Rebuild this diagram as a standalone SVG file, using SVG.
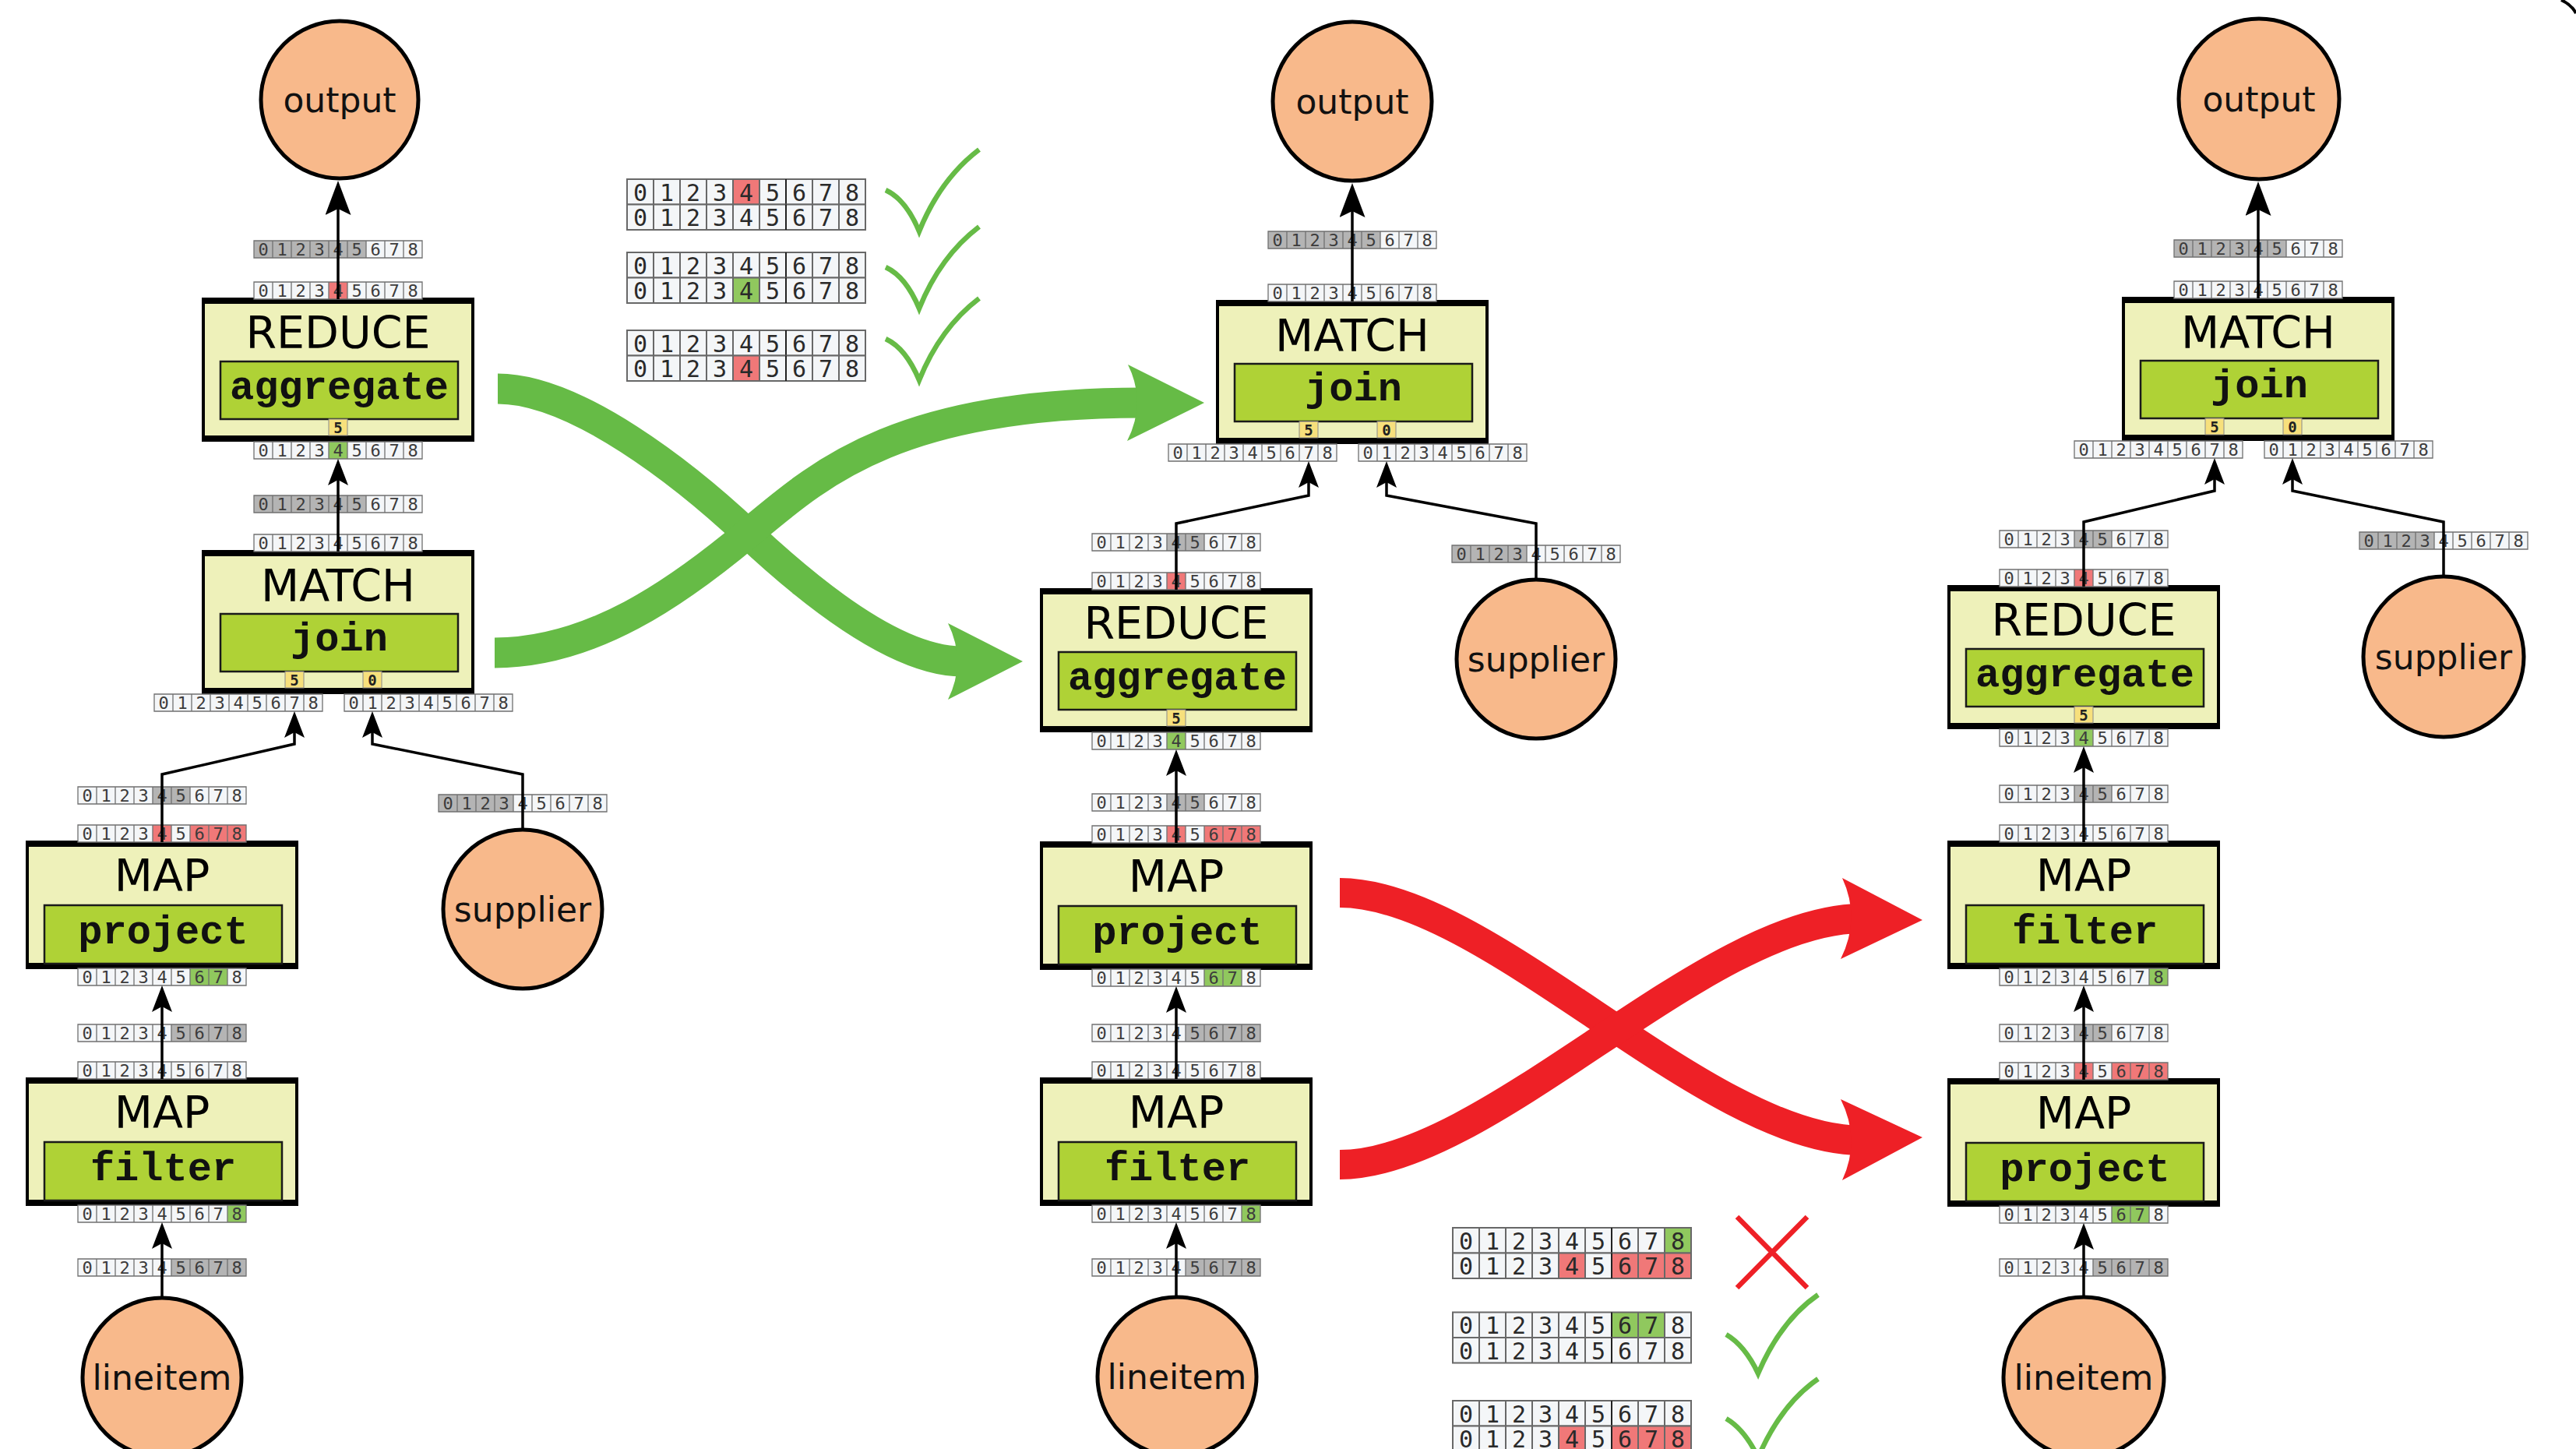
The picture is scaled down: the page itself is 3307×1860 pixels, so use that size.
<svg xmlns="http://www.w3.org/2000/svg" width="3307" height="1860" viewBox="0 0 3307 1860">
<style>
  .op{fill:#EEF1BA;stroke:#000;stroke-width:4}
  .bd{fill:#000}
  .fn{fill:#AFD236;stroke:#1a1a1a;stroke-width:2.5}
  .ix{fill:#F7E07C;stroke:#8a8a8a;stroke-width:1}
  .src{fill:#F8B98B;stroke:#000;stroke-width:5}
  .t{font-family:"DejaVu Sans",sans-serif;font-size:57px;text-anchor:middle;fill:#000}
  .s{font-family:"Liberation Mono","DejaVu Sans Mono",monospace;font-weight:bold;font-size:52px;text-anchor:middle;fill:#111}
  .c{font-family:"DejaVu Sans",sans-serif;font-size:44px;text-anchor:middle;fill:#111}
  .y{font-family:"DejaVu Sans Mono",monospace;font-weight:bold;font-size:19px;text-anchor:middle;fill:#222}
  .d{font-family:"DejaVu Sans Mono",monospace;font-size:22px;text-anchor:middle;fill:#3c3c3c}
  .D{font-family:"DejaVu Sans Mono",monospace;font-size:30px;text-anchor:middle;fill:#2a2a2a}
  .cw{fill:#F4F6F8}
  .cg{fill:#B4B4B4}
  .cr{fill:#F07878}
  .cn{fill:#90C85E}
  .grid{fill:none;stroke:#707070;stroke-width:1.3}
  .Grid{fill:none;stroke:#686868;stroke-width:2}
  .edge{fill:none;stroke:#000;stroke-width:3.5}
  .sm{marker-end:url(#ah)}
  .lg{marker-end:url(#ahBig)}
  .flow-ok{fill:none;stroke:#66BB46;stroke-width:39}
  .flow-bad{fill:none;stroke:#EE2026;stroke-width:38}
  .head-ok{fill:#66BB46}
  .head-bad{fill:#EE2026}
  .tick{fill:none;stroke:#66BB46;stroke-width:6.5;stroke-linejoin:miter}
  .cross{fill:none;stroke:#EE2026;stroke-width:6.5}
</style>
<defs>
  <marker id="ah" markerUnits="userSpaceOnUse" viewBox="0 -13 34 26" markerWidth="34" markerHeight="26" refX="24" refY="0" orient="auto">
    <path d="M0,-13L34,0L0,13L7,0Z" fill="#000"/>
  </marker>
  <marker id="ahBig" markerUnits="userSpaceOnUse" viewBox="0 -16.5 44 33" markerWidth="44" markerHeight="33" refX="34" refY="0" orient="auto">
    <path d="M0,-16.5L44,0L0,16.5L8,0Z" fill="#000"/>
  </marker>
  <!-- 9-field record: grid lines and field numbers (small) -->
  <g id="g9">
    <path class="grid" d="M0,0H216V22H0Z M24,0V22 M48,0V22 M72,0V22 M96,0V22 M120,0V22 M144,0V22 M168,0V22 M192,0V22"/>
    <text class="d" x="12 36 60 84 108 132 156 180 204" y="19">012345678</text>
  </g>
  <!-- 9-field record: large version used in the comparison tables -->
  <g id="G9">
    <path class="Grid" d="M0,0H306V32.5H0Z M34,0V32.5 M68,0V32.5 M102,0V32.5 M136,0V32.5 M170,0V32.5 M238,0V32.5 M272,0V32.5"/>
    <path d="M204,0V32.5" stroke="#222" stroke-width="2"/>
    <text class="D" x="17 51 85 119 153 187 221 255 289" y="27.5">012345678</text>
  </g>
</defs>

<rect width="3307" height="1860" fill="#fff"/>

<!-- plan rewrites: swap of REDUCE/MATCH (valid), swap of the two MAPs (invalid) -->
<g id="rewrites">
  <path class="flow-ok" d="M639,499C740,499 880,610 960,685S1150,849 1235,849"/>
  <path class="flow-ok" d="M635,838C760,838 870,760 960,685S1150,517 1465,517"/>
  <path class="head-ok" d="M1217,800L1313,849L1217,898Q1241,849 1217,800Z"/>
  <path class="head-ok" d="M1448,468L1546,517L1447,566Q1472,517 1448,468Z"/>
  <path class="flow-bad" d="M1720,1146C1910,1146 2190,1464 2390,1464"/>
  <path class="flow-bad" d="M1720,1495C1910,1495 2190,1179 2390,1179"/>
  <path class="head-bad" d="M2365,1127L2468,1181L2363,1231Q2389,1179 2365,1127Z"/>
  <path class="head-bad" d="M2363,1411L2468,1460L2365,1515Q2389,1463 2363,1411Z"/>
</g>

<!-- comparison tables -->
<g id="checks-top">
  <g transform="translate(805,230)"><rect class="cw" width="306" height="32.5"/><rect class="cr" x="136" width="34" height="32.5"/><use href="#G9"/></g>
  <g transform="translate(805,262.5)"><rect class="cw" width="306" height="32.5"/><use href="#G9"/></g>
  <g transform="translate(805,324)"><rect class="cw" width="306" height="32.5"/><use href="#G9"/></g>
  <g transform="translate(805,356.5)"><rect class="cw" width="306" height="32.5"/><rect class="cn" x="136" width="34" height="32.5"/><use href="#G9"/></g>
  <g transform="translate(805,424)"><rect class="cw" width="306" height="32.5"/><use href="#G9"/></g>
  <g transform="translate(805,456.5)"><rect class="cw" width="306" height="32.5"/><rect class="cr" x="136" width="34" height="32.5"/><use href="#G9"/></g>
  <path class="tick" d="M1137,244Q1163,256 1180,297Q1207,230 1257,192"/>
  <path class="tick" d="M1137,343Q1163,355 1180,396Q1207,329 1257,291"/>
  <path class="tick" d="M1137,435Q1163,447 1180,488Q1207,421 1257,383"/>
</g>
<g id="checks-bottom">
  <g transform="translate(1865,1576)"><rect class="cw" width="306" height="32.5"/><rect class="cn" x="272" width="34" height="32.5"/><use href="#G9"/></g>
  <g transform="translate(1865,1608.5)"><rect class="cw" width="306" height="32.5"/><rect class="cr" x="136" width="34" height="32.5"/><rect class="cr" x="204" width="102" height="32.5"/><use href="#G9"/></g>
  <g transform="translate(1865,1684.5)"><rect class="cw" width="306" height="32.5"/><rect class="cn" x="204" width="68" height="32.5"/><use href="#G9"/></g>
  <g transform="translate(1865,1717)"><rect class="cw" width="306" height="32.5"/><use href="#G9"/></g>
  <g transform="translate(1865,1798)"><rect class="cw" width="306" height="32.5"/><use href="#G9"/></g>
  <g transform="translate(1865,1830.5)"><rect class="cw" width="306" height="32.5"/><rect class="cr" x="136" width="34" height="32.5"/><rect class="cr" x="204" width="102" height="32.5"/><use href="#G9"/></g>
  <path class="cross" d="M2230,1562L2320,1653M2320,1562L2230,1653"/>
  <path class="tick" d="M2216,1713Q2240,1727 2257,1763Q2286,1695 2334,1662"/>
  <path class="tick" d="M2216,1821Q2240,1835 2257,1871Q2286,1803 2334,1770"/>
</g>

<!-- ===== plan A ===== -->
<g id="a-output"><circle class="src" cx="436" cy="128" r="101"/><text class="c" x="436" y="144">output</text></g>
<g id="a-reduce" transform="translate(261,384)">
  <rect class="op" width="346" height="181"/>
  <rect class="bd" x="-2" y="-2" width="350" height="8"/><rect class="bd" x="-2" y="175" width="350" height="8"/>
  <text class="t" x="173" y="63">REDUCE</text>
  <rect class="fn" x="22" y="80" width="305" height="74"/>
  <text class="s" x="174.5" y="128">aggregate</text>
  <rect class="ix" x="161" y="154" width="24" height="21"/><text class="y" x="173" y="171.5">5</text>
</g>
<g id="a-match" transform="translate(261,708)">
  <rect class="op" width="346" height="181"/>
  <rect class="bd" x="-2" y="-2" width="350" height="8"/><rect class="bd" x="-2" y="175" width="350" height="8"/>
  <text class="t" x="173" y="64">MATCH</text>
  <rect class="fn" x="22" y="80" width="305" height="74"/>
  <text class="s" x="174.5" y="127">join</text>
  <rect class="ix" x="105" y="154" width="24" height="21"/><text class="y" x="117" y="171.5">5</text>
  <rect class="ix" x="205" y="154" width="24" height="21"/><text class="y" x="217" y="171.5">0</text>
</g>
<g id="a-map-project" transform="translate(35,1081)">
  <rect class="op" width="346" height="161"/>
  <rect class="bd" x="-2" y="-2" width="350" height="8"/><rect class="bd" x="-2" y="155" width="350" height="8"/>
  <text class="t" x="173" y="63">MAP</text>
  <rect class="fn" x="22" y="81" width="305" height="75"/>
  <text class="s" x="174.5" y="130">project</text>
</g>
<g id="a-map-filter" transform="translate(35,1385)">
  <rect class="op" width="346" height="161"/>
  <rect class="bd" x="-2" y="-2" width="350" height="8"/><rect class="bd" x="-2" y="155" width="350" height="8"/>
  <text class="t" x="173" y="63">MAP</text>
  <rect class="fn" x="22" y="81" width="305" height="75"/>
  <text class="s" x="174.5" y="130">filter</text>
</g>
<g id="a-supplier"><circle class="src" cx="671" cy="1167" r="102"/><text class="c" x="671" y="1183">supplier</text></g>
<g id="a-lineitem"><circle class="src" cx="208" cy="1768" r="102"/><text class="c" x="208" y="1784">lineitem</text></g>

<!-- ===== plan B ===== -->
<g id="b-output"><circle class="src" cx="1736" cy="130" r="102"/><text class="c" x="1736" y="146">output</text></g>
<g id="b-match" transform="translate(1563,387)">
  <rect class="op" width="346" height="181"/>
  <rect class="bd" x="-2" y="-2" width="350" height="8"/><rect class="bd" x="-2" y="175" width="350" height="8"/>
  <text class="t" x="173" y="64">MATCH</text>
  <rect class="fn" x="22" y="80" width="305" height="74"/>
  <text class="s" x="174.5" y="127">join</text>
  <rect class="ix" x="105" y="154" width="24" height="21"/><text class="y" x="117" y="171.5">5</text>
  <rect class="ix" x="205" y="154" width="24" height="21"/><text class="y" x="217" y="171.5">0</text>
</g>
<g id="b-reduce" transform="translate(1337,757)">
  <rect class="op" width="346" height="181"/>
  <rect class="bd" x="-2" y="-2" width="350" height="8"/><rect class="bd" x="-2" y="175" width="350" height="8"/>
  <text class="t" x="173" y="63">REDUCE</text>
  <rect class="fn" x="22" y="80" width="305" height="74"/>
  <text class="s" x="174.5" y="128">aggregate</text>
  <rect class="ix" x="161" y="154" width="24" height="21"/><text class="y" x="173" y="171.5">5</text>
</g>
<g id="b-map-project" transform="translate(1337,1082)">
  <rect class="op" width="346" height="161"/>
  <rect class="bd" x="-2" y="-2" width="350" height="8"/><rect class="bd" x="-2" y="155" width="350" height="8"/>
  <text class="t" x="173" y="63">MAP</text>
  <rect class="fn" x="22" y="81" width="305" height="75"/>
  <text class="s" x="174.5" y="130">project</text>
</g>
<g id="b-map-filter" transform="translate(1337,1385)">
  <rect class="op" width="346" height="161"/>
  <rect class="bd" x="-2" y="-2" width="350" height="8"/><rect class="bd" x="-2" y="155" width="350" height="8"/>
  <text class="t" x="173" y="63">MAP</text>
  <rect class="fn" x="22" y="81" width="305" height="75"/>
  <text class="s" x="174.5" y="130">filter</text>
</g>
<g id="b-supplier"><circle class="src" cx="1972" cy="846" r="102"/><text class="c" x="1972" y="862">supplier</text></g>
<g id="b-lineitem"><circle class="src" cx="1511" cy="1767" r="102"/><text class="c" x="1511" y="1783">lineitem</text></g>

<!-- ===== plan C ===== -->
<g id="c-output"><circle class="src" cx="2900" cy="127" r="103"/><text class="c" x="2900" y="143">output</text></g>
<g id="c-match" transform="translate(2726,383)">
  <rect class="op" width="346" height="181"/>
  <rect class="bd" x="-2" y="-2" width="350" height="8"/><rect class="bd" x="-2" y="175" width="350" height="8"/>
  <text class="t" x="173" y="64">MATCH</text>
  <rect class="fn" x="22" y="80" width="305" height="74"/>
  <text class="s" x="174.5" y="127">join</text>
  <rect class="ix" x="105" y="154" width="24" height="21"/><text class="y" x="117" y="171.5">5</text>
  <rect class="ix" x="205" y="154" width="24" height="21"/><text class="y" x="217" y="171.5">0</text>
</g>
<g id="c-reduce" transform="translate(2502,753)">
  <rect class="op" width="346" height="181"/>
  <rect class="bd" x="-2" y="-2" width="350" height="8"/><rect class="bd" x="-2" y="175" width="350" height="8"/>
  <text class="t" x="173" y="63">REDUCE</text>
  <rect class="fn" x="22" y="80" width="305" height="74"/>
  <text class="s" x="174.5" y="128">aggregate</text>
  <rect class="ix" x="161" y="154" width="24" height="21"/><text class="y" x="173" y="171.5">5</text>
</g>
<g id="c-map-filter" transform="translate(2502,1081)">
  <rect class="op" width="346" height="161"/>
  <rect class="bd" x="-2" y="-2" width="350" height="8"/><rect class="bd" x="-2" y="155" width="350" height="8"/>
  <text class="t" x="173" y="63">MAP</text>
  <rect class="fn" x="22" y="81" width="305" height="75"/>
  <text class="s" x="174.5" y="130">filter</text>
</g>
<g id="c-map-project" transform="translate(2502,1386)">
  <rect class="op" width="346" height="161"/>
  <rect class="bd" x="-2" y="-2" width="350" height="8"/><rect class="bd" x="-2" y="155" width="350" height="8"/>
  <text class="t" x="173" y="63">MAP</text>
  <rect class="fn" x="22" y="81" width="305" height="75"/>
  <text class="s" x="174.5" y="130">project</text>
</g>
<g id="c-supplier"><circle class="src" cx="3137" cy="843" r="103"/><text class="c" x="3137" y="859">supplier</text></g>
<g id="c-lineitem"><circle class="src" cx="2675" cy="1768" r="103"/><text class="c" x="2675" y="1784">lineitem</text></g>

<!-- field records on operator inputs/outputs and edges -->
<g id="records">
  <!-- plan A -->
  <g transform="translate(326,309)"><rect class="cw" width="216" height="22"/><rect class="cg" width="144" height="22"/><use href="#g9"/></g>
  <g transform="translate(326,362)"><rect class="cw" width="216" height="22"/><rect class="cr" x="96" width="24" height="22"/><use href="#g9"/></g>
  <g transform="translate(326,567)"><rect class="cw" width="216" height="22"/><rect class="cn" x="96" width="24" height="22"/><use href="#g9"/></g>
  <g transform="translate(326,636)"><rect class="cw" width="216" height="22"/><rect class="cg" width="144" height="22"/><use href="#g9"/></g>
  <g transform="translate(326,686)"><rect class="cw" width="216" height="22"/><use href="#g9"/></g>
  <g transform="translate(198,891)"><rect class="cw" width="216" height="22"/><use href="#g9"/></g>
  <g transform="translate(442,891)"><rect class="cw" width="216" height="22"/><use href="#g9"/></g>
  <g transform="translate(100,1010)"><rect class="cw" width="216" height="22"/><rect class="cg" x="96" width="48" height="22"/><use href="#g9"/></g>
  <g transform="translate(563,1020)"><rect class="cw" width="216" height="22"/><rect class="cg" width="96" height="22"/><use href="#g9"/></g>
  <g transform="translate(100,1059)"><rect class="cw" width="216" height="22"/><rect class="cr" x="96" width="24" height="22"/><rect class="cr" x="144" width="72" height="22"/><use href="#g9"/></g>
  <g transform="translate(100,1243)"><rect class="cw" width="216" height="22"/><rect class="cn" x="144" width="48" height="22"/><use href="#g9"/></g>
  <g transform="translate(100,1315)"><rect class="cw" width="216" height="22"/><rect class="cg" x="120" width="96" height="22"/><use href="#g9"/></g>
  <g transform="translate(100,1363)"><rect class="cw" width="216" height="22"/><use href="#g9"/></g>
  <g transform="translate(100,1547)"><rect class="cw" width="216" height="22"/><rect class="cn" x="192" width="24" height="22"/><use href="#g9"/></g>
  <g transform="translate(100,1616)"><rect class="cw" width="216" height="22"/><rect class="cg" x="120" width="96" height="22"/><use href="#g9"/></g>
  <!-- plan B -->
  <g transform="translate(1628,297)"><rect class="cw" width="216" height="22"/><rect class="cg" width="144" height="22"/><use href="#g9"/></g>
  <g transform="translate(1628,365)"><rect class="cw" width="216" height="22"/><use href="#g9"/></g>
  <g transform="translate(1500,570)"><rect class="cw" width="216" height="22"/><use href="#g9"/></g>
  <g transform="translate(1744,570)"><rect class="cw" width="216" height="22"/><use href="#g9"/></g>
  <g transform="translate(1402,685)"><rect class="cw" width="216" height="22"/><rect class="cg" x="96" width="48" height="22"/><use href="#g9"/></g>
  <g transform="translate(1864,700)"><rect class="cw" width="216" height="22"/><rect class="cg" width="96" height="22"/><use href="#g9"/></g>
  <g transform="translate(1402,735)"><rect class="cw" width="216" height="22"/><rect class="cr" x="96" width="24" height="22"/><use href="#g9"/></g>
  <g transform="translate(1402,940)"><rect class="cw" width="216" height="22"/><rect class="cn" x="96" width="24" height="22"/><use href="#g9"/></g>
  <g transform="translate(1402,1019)"><rect class="cw" width="216" height="22"/><rect class="cg" x="96" width="48" height="22"/><use href="#g9"/></g>
  <g transform="translate(1402,1060)"><rect class="cw" width="216" height="22"/><rect class="cr" x="96" width="24" height="22"/><rect class="cr" x="144" width="72" height="22"/><use href="#g9"/></g>
  <g transform="translate(1402,1244)"><rect class="cw" width="216" height="22"/><rect class="cn" x="144" width="48" height="22"/><use href="#g9"/></g>
  <g transform="translate(1402,1315)"><rect class="cw" width="216" height="22"/><rect class="cg" x="120" width="96" height="22"/><use href="#g9"/></g>
  <g transform="translate(1402,1363)"><rect class="cw" width="216" height="22"/><use href="#g9"/></g>
  <g transform="translate(1402,1547)"><rect class="cw" width="216" height="22"/><rect class="cn" x="192" width="24" height="22"/><use href="#g9"/></g>
  <g transform="translate(1402,1616)"><rect class="cw" width="216" height="22"/><rect class="cg" x="120" width="96" height="22"/><use href="#g9"/></g>
  <!-- plan C -->
  <g transform="translate(2791,308)"><rect class="cw" width="216" height="22"/><rect class="cg" width="144" height="22"/><use href="#g9"/></g>
  <g transform="translate(2791,361)"><rect class="cw" width="216" height="22"/><use href="#g9"/></g>
  <g transform="translate(2663,566)"><rect class="cw" width="216" height="22"/><use href="#g9"/></g>
  <g transform="translate(2907,566)"><rect class="cw" width="216" height="22"/><use href="#g9"/></g>
  <g transform="translate(2567,681)"><rect class="cw" width="216" height="22"/><rect class="cg" x="96" width="48" height="22"/><use href="#g9"/></g>
  <g transform="translate(3029,683)"><rect class="cw" width="216" height="22"/><rect class="cg" width="96" height="22"/><use href="#g9"/></g>
  <g transform="translate(2567,731)"><rect class="cw" width="216" height="22"/><rect class="cr" x="96" width="24" height="22"/><use href="#g9"/></g>
  <g transform="translate(2567,936)"><rect class="cw" width="216" height="22"/><rect class="cn" x="96" width="24" height="22"/><use href="#g9"/></g>
  <g transform="translate(2567,1008)"><rect class="cw" width="216" height="22"/><rect class="cg" x="96" width="48" height="22"/><use href="#g9"/></g>
  <g transform="translate(2567,1059)"><rect class="cw" width="216" height="22"/><use href="#g9"/></g>
  <g transform="translate(2567,1243)"><rect class="cw" width="216" height="22"/><rect class="cn" x="192" width="24" height="22"/><use href="#g9"/></g>
  <g transform="translate(2567,1315)"><rect class="cw" width="216" height="22"/><rect class="cg" x="96" width="48" height="22"/><use href="#g9"/></g>
  <g transform="translate(2567,1364)"><rect class="cw" width="216" height="22"/><rect class="cr" x="96" width="24" height="22"/><rect class="cr" x="144" width="72" height="22"/><use href="#g9"/></g>
  <g transform="translate(2567,1548)"><rect class="cw" width="216" height="22"/><rect class="cn" x="144" width="48" height="22"/><use href="#g9"/></g>
  <g transform="translate(2567,1616)"><rect class="cw" width="216" height="22"/><rect class="cg" x="120" width="96" height="22"/><use href="#g9"/></g>
</g>

<!-- data-flow edges -->
<g id="connectors">
  <path class="edge lg" d="M434,384V242"/>
  <path class="edge sm" d="M434,708V599"/>
  <path class="edge sm" d="M208,1081V994L378,955V923"/>
  <path class="edge sm" d="M671,1063V994L478,955V923"/>
  <path class="edge sm" d="M208,1385V1275"/>
  <path class="edge sm" d="M208,1664V1579"/>

  <path class="edge lg" d="M1736,387V245"/>
  <path class="edge sm" d="M1510,757V672L1680,636V602"/>
  <path class="edge sm" d="M1972,742V672L1780,636V602"/>
  <path class="edge sm" d="M1510,1082V972"/>
  <path class="edge sm" d="M1510,1385V1276"/>
  <path class="edge sm" d="M1510,1663V1579"/>

  <path class="edge lg" d="M2899,383V243"/>
  <path class="edge sm" d="M2675,753V670L2843,630V598"/>
  <path class="edge sm" d="M3137,738V670L2943,630V598"/>
  <path class="edge sm" d="M2675,1081V968"/>
  <path class="edge sm" d="M2675,1386V1275"/>
  <path class="edge sm" d="M2675,1663V1580"/>
</g>

<path d="M3288,0Q3301,6 3307,17" fill="none" stroke="#000" stroke-width="4"/>
</svg>
